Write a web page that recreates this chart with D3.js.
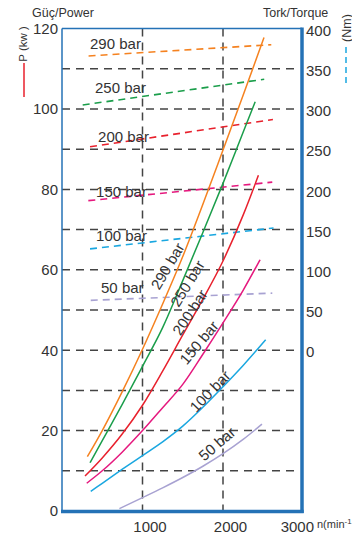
<!DOCTYPE html>
<html>
<head>
<meta charset="utf-8">
<script src="https://cdn.jsdelivr.net/npm/d3@7"></script>
<style>
  html, body { margin: 0; padding: 0; background: #ffffff; }
  svg { display: block; }
  text { font-family: "Liberation Sans", Arial, Helvetica, sans-serif; fill: #333; }
</style>
</head>
<body>
<svg id="chart" width="352" height="535"></svg>
<script>
// ---------- DATA ----------
const pressures = ["290 bar", "250 bar", "200 bar", "150 bar", "100 bar", "50 bar"];
const rpmTicks = [1000, 2000, 3000];
const powerTicks = [0, 20, 40, 60, 80, 100, 120];
const torqueTicks = [0, 50, 100, 150, 200, 250, 300, 350, 400];
const gridPower = [10, 20, 30, 40, 50, 60, 70, 80, 90, 100, 110];

// power curves: [rpm, kW]
const power290 = [[315,13.5],[500,20],[750,29.75],[1000,40.25],[1250,51.5],[1500,63.3],[1750,76.3],[2000,89.8],[2250,103.4],[2510,117.8]];
const power250 = [[348,12],[500,17.5],[750,26.6],[1000,36],[1250,45.6],[1500,57.3],[1750,69.3],[2000,81.5],[2250,94.2],[2400,101.8]];
const power200 = [[286,8.7],[500,13.2],[750,19.2],[1000,26.3],[1250,34.8],[1500,43.8],[1750,52.7],[2000,62.2],[2250,73.6],[2440,83.5]];
const power150 = [[307,6.9],[500,10],[750,14.7],[1000,20],[1250,25.7],[1500,31.5],[1750,39],[2000,46.8],[2250,54.9],[2460,62.5]];
const power100 = [[357,4.9],[500,6.9],[750,10.4],[1000,13.8],[1250,17.2],[1500,21.1],[1750,25.8],[2000,30.9],[2250,36.2],[2530,42.6]];
const power50  = [[713,0.6],[1000,3.33],[1250,5.76],[1500,8.33],[1750,11.13],[2000,14.26],[2250,17.81],[2484,21.6]];

// torque lines: [rpm, Nm]
const torque290 = [[330,366],[2600,380]];
const torque250 = [[257,305],[2512,337]];
const torque200 = [[348,253],[2620,287]];
const torque150 = [[327,186],[2612,209]];
const torque100 = [[348,126],[2628,152]];
const torque50  = [[357,62],[2612,71]];

const powerSeries = [power290, power250, power200, power150, power100, power50];
const torqueSeries = [torque290, torque250, torque200, torque150, torque100, torque50];

// ---------- LAYOUT / STYLE ----------
const colors = ["#f58220", "#1b9e4b", "#e8212d", "#e5197e", "#1aa7e0", "#a8a2d2"];
const frameColor = "#2472b6";
const gridColor = "#444";

// label anchors (in data units) for torque labels and rotated power labels
const torqueLabelAt = [[348,374.6],[410,320],[448,259],[423,190.5],[423,136],[485,71]];
const powerLabelAt = [[1311,60.9],[1559,56.6],[1590,49.4],[1702,41.9],[1839,29.8],[1925,16.7]];
const powerLabelAngle = [-59.5, -58.5, -57, -50, -46, -41];

const svg = d3.select("#chart");
const x = d3.scaleLinear().domain([0, 3000]).range([62, 303.5]);
const yP = d3.scaleLinear().domain([0, 120]).range([511, 28.6]);
const yT = d3.scaleLinear().domain([0, 400]).range([yP(40), yP(120)]);

// grid: horizontal
svg.append("g").selectAll("line").data(gridPower).join("line")
  .attr("x1", 62).attr("x2", 297)
  .attr("y1", d => yP(d)).attr("y2", d => yP(d))
  .attr("stroke", gridColor).attr("stroke-width", 1.5)
  .attr("stroke-dasharray", "8,6");

// grid: vertical
svg.append("g").selectAll("line").data(rpmTicks.slice(0, 2)).join("line")
  .attr("x1", d => x(d)).attr("x2", d => x(d))
  .attr("y1", yP(120)).attr("y2", yP(0))
  .attr("stroke", gridColor).attr("stroke-width", 1.5)
  .attr("stroke-dasharray", "8,6");

// torque dashed lines
const tLine = d3.line().x(d => x(d[0])).y(d => yT(d[1]));
svg.append("g").selectAll("path").data(torqueSeries).join("path")
  .attr("d", tLine)
  .attr("fill", "none")
  .attr("stroke", (d, i) => colors[i])
  .attr("stroke-width", 1.6)
  .attr("stroke-dasharray", "7,5");

// power curves
const pLine = d3.line().x(d => x(d[0])).y(d => yP(d[1])).curve(d3.curveMonotoneX);
svg.append("g").selectAll("path").data(powerSeries).join("path")
  .attr("d", pLine)
  .attr("fill", "none")
  .attr("stroke", (d, i) => colors[i])
  .attr("stroke-width", 1.5);

// frame
const fr = svg.append("g");
fr.append("line").attr("x1", 62).attr("x2", 62).attr("y1", yP(120)).attr("y2", yP(0))
  .attr("stroke", frameColor).attr("stroke-width", 1.5);
fr.append("line").attr("x1", 62).attr("x2", 302).attr("y1", yP(120)).attr("y2", yP(120))
  .attr("stroke", frameColor).attr("stroke-width", 1.5);
fr.append("line").attr("x1", 302).attr("x2", 302).attr("y1", yP(120) - 1).attr("y2", yP(0) + 2)
  .attr("stroke", frameColor).attr("stroke-width", 3.5);
fr.append("line").attr("x1", 61).attr("x2", 303.7).attr("y1", yP(0) + 0.5).attr("y2", yP(0) + 0.5)
  .attr("stroke", frameColor).attr("stroke-width", 3.5);

// axes
const axisFont = 15;
const leftAx = svg.append("g").attr("transform", "translate(62,0)")
  .call(d3.axisLeft(yP).tickValues(powerTicks).tickSize(0).tickPadding(4).tickFormat(d3.format("d")));
const rightAx = svg.append("g").attr("transform", "translate(302,0)")
  .call(d3.axisRight(yT).tickValues(torqueTicks).tickSize(0).tickPadding(4).tickFormat(d3.format("d")));
const botAx = svg.append("g").attr("transform", `translate(0,${yP(0)})`)
  .call(d3.axisBottom(x).tickValues(rpmTicks).tickSize(0).tickPadding(10).tickFormat(d3.format("d")));
[leftAx, rightAx, botAx].forEach(g => {
  g.select(".domain").remove();
  g.selectAll("text").attr("font-size", axisFont).attr("fill", "#333")
    .attr("font-family", "'Liberation Sans', Arial, sans-serif");
});
leftAx.selectAll("text").attr("x", -4);
rightAx.selectAll("text").attr("dy", "0.45em");
botAx.selectAll("text")
  .attr("dx", d => d === 3000 ? 10 : 7)
  .attr("text-anchor", d => d === 3000 ? "end" : "middle");

// torque labels
svg.append("g").selectAll("text").data(pressures).join("text")
  .attr("x", (d, i) => x(torqueLabelAt[i][0]))
  .attr("y", (d, i) => yT(torqueLabelAt[i][1]))
  .attr("font-size", 15)
  .text(d => d);

// rotated power labels
svg.append("g").selectAll("text").data(pressures).join("text")
  .attr("transform", (d, i) => `translate(${x(powerLabelAt[i][0])},${yP(powerLabelAt[i][1])}) rotate(${powerLabelAngle[i]})`)
  .attr("text-anchor", "middle")
  .attr("dy", "0.35em")
  .attr("font-size", 15)
  .text(d => d);

// titles
svg.append("text").attr("x", 32).attr("y", 17).attr("font-size", 12.5).text("Güç/Power");
svg.append("text").attr("x", 263).attr("y", 16.5).attr("font-size", 12.5).text("Tork/Torque");

// P (kw ) rotated with red legend line
svg.append("text").attr("transform", "translate(27,44) rotate(-90)")
  .attr("text-anchor", "middle").attr("font-size", 11.5).text("P (kw )");
svg.append("line").attr("x1", 24).attr("x2", 24).attr("y1", 63).attr("y2", 97)
  .attr("stroke", colors[2]).attr("stroke-width", 1.5);

// (Nm) rotated with blue dashed legend line
svg.append("text").attr("transform", "translate(350.5,28) rotate(-90)")
  .attr("text-anchor", "middle").attr("font-size", 12.5).text("(Nm)");
svg.append("line").attr("x1", 346).attr("x2", 346).attr("y1", 47).attr("y2", 85)
  .attr("stroke", colors[4]).attr("stroke-width", 1.5).attr("stroke-dasharray", "6,4");

// x-axis unit
const unit = svg.append("text").attr("x", 317).attr("y", 528).attr("font-size", 11);
unit.append("tspan").text("n(min");
unit.append("tspan").attr("dy", -4).attr("font-size", 8).text("-1");
</script>
</body>
</html>
